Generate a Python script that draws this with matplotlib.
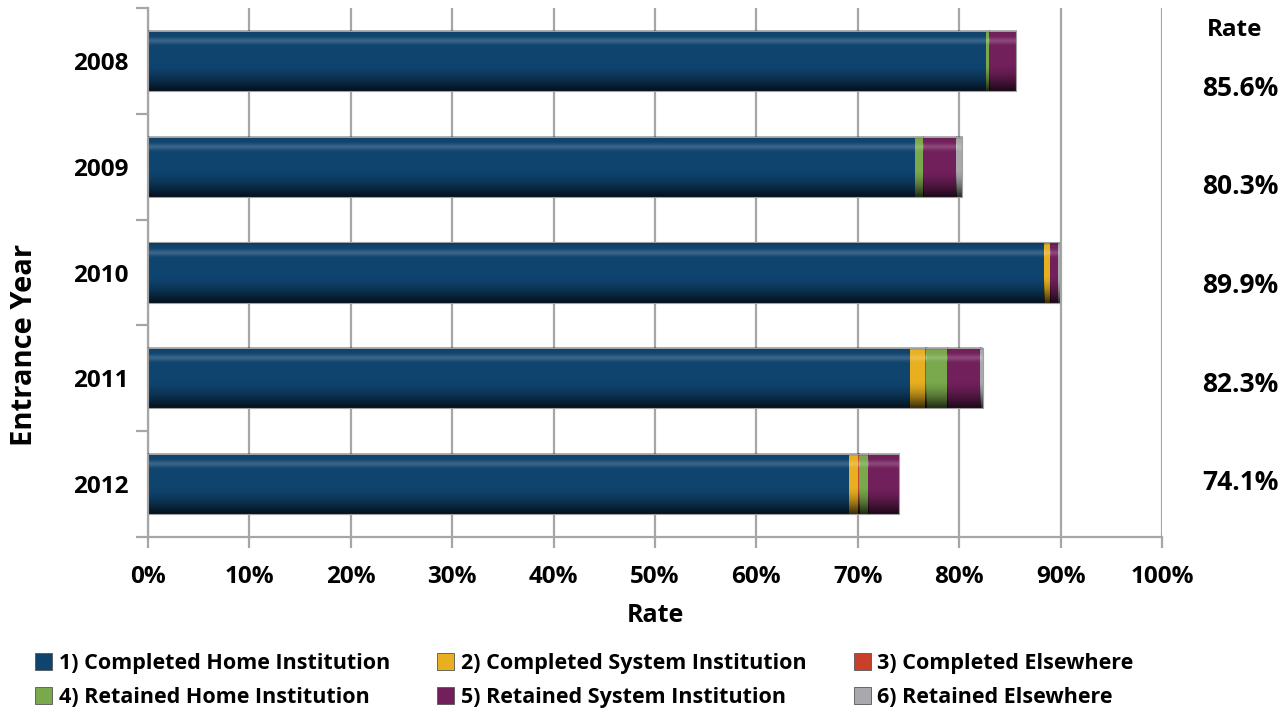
import numpy as np
import matplotlib
matplotlib.use("Agg")
from matplotlib import pyplot as plt
from matplotlib.patches import Patch

plt.rcParams['font.family'] = ['Open Sans', 'DejaVu Sans']
plt.rcParams['font.weight'] = 'bold'

years = ["2008", "2009", "2010", "2011", "2012"]
rates = [85.6, 80.3, 89.9, 82.3, 74.1]

series_names = ["1) Completed Home Institution", "2) Completed System Institution",
                "3) Completed Elsewhere", "4) Retained Home Institution",
                "5) Retained System Institution", "6) Retained Elsewhere"]
completed_home = [82.6, 75.6, 88.4, 75.1, 69.1]
completed_system = [0.0, 0.0, 0.6, 1.5, 0.9]
completed_else = [0.0, 0.0, 0.0, 0.1, 0.1]
retained_home = [0.3, 0.8, 0.0, 2.1, 0.9]
retained_system = [2.7, 3.3, 0.7, 3.3, 3.1]
retained_else = [0.0, 0.6, 0.2, 0.2, 0.0]
series = [completed_home, completed_system, completed_else,
          retained_home, retained_system, retained_else]
colors = ["#0f446f", "#e8b020", "#c8402a", "#7aa84c", "#72205c", "#a9a9ad"]

x_ticks = np.arange(0, 101, 10)


def shade_bar(ax, patch):
    # glossy look: light stripe near the top, dark towards the bottom
    x0, y0 = patch.get_x(), patch.get_y()
    w, h = patch.get_width(), patch.get_height()
    if w <= 0:
        return
    n = 60
    t = np.linspace(0, 1, n)
    img = np.zeros((n, 1, 4))
    light = np.exp(-((t - 0.17) / 0.05) ** 2) * 0.18
    dark = np.clip((t - 0.55) / 0.45, 0, 1) ** 1.6 * 0.75 + np.clip((0.05 - t) / 0.05, 0, 1) * 0.3
    img[:, 0, :3] = np.where(light[:, None] > dark[:, None], 1.0, 0.0)
    img[:, 0, 3] = np.maximum(light, dark)
    ax.imshow(img, extent=[x0, x0 + w, y0, y0 + h], origin='upper',
              aspect='auto', zorder=patch.get_zorder() + 0.1, interpolation='bilinear')


fig = plt.figure(figsize=(12.88, 7.13), dpi=100)
ax = fig.add_axes([148 / 1288, 1 - 537 / 713, 1014 / 1288, 529 / 713])

ypos = np.arange(len(years))[::-1]
left = np.zeros(len(years))
for vals, col in zip(series, colors):
    bars = ax.barh(ypos, vals, left=left, height=0.57, color=col, zorder=3,
                   edgecolor='none')
    for p in bars:
        shade_bar(ax, p)
    left += np.array(vals)

# thin grey outline round each whole bar
ax.barh(ypos, rates, height=0.57, facecolor='none', edgecolor='#a0a0a0',
        linewidth=0.8, zorder=4)

ax.set_xlim(0, 100)
ax.set_ylim(-0.5, len(years) - 0.5)

ax.set_xticks(x_ticks)
ax.set_xticklabels([f"{v}%" for v in x_ticks], fontsize=17.5, fontweight='bold')
ax.xaxis.grid(True, color='#a6a6a6', linewidth=1.6, zorder=0)
ax.set_axisbelow(True)

ax.set_yticks(np.arange(-0.5, len(years), 1.0))
ax.set_yticklabels([])
ax.set_yticks(ypos, minor=True)
ax.set_yticklabels(years, minor=True, fontsize=17.5, fontweight='bold')
ax.tick_params(axis='y', which='minor', length=0, pad=14)
ax.tick_params(axis='y', which='major', length=9, width=1.6, color='#a6a6a6')
ax.tick_params(axis='x', length=8, width=1.6, color='#a6a6a6', pad=12)

for side in ['top', 'right']:
    ax.spines[side].set_visible(False)
for side in ['left', 'bottom']:
    ax.spines[side].set_color('#a6a6a6')
    ax.spines[side].set_linewidth(1.6)

ax.set_xlabel("Rate", fontsize=18, fontweight='bold', labelpad=10)
ax.set_ylabel("Entrance Year", fontsize=21, fontweight='bold', va='center')
ax.yaxis.set_label_coords(-0.122, 0.363)

# rate column on the right, evenly spaced below its heading
ax.text(1.072, 1 - 22 / 529, "Rate", transform=ax.transAxes, ha='center',
        va='center', fontsize=17.5, fontweight='bold')
label_y = np.linspace(1 - 80 / 529, 1 - 475 / 529, len(rates))
for y, r in zip(label_y, rates):
    ax.text(1.077, y, f"{r}%", transform=ax.transAxes, ha='center', va='center',
            fontsize=19, fontweight='bold')

handles = [Patch(facecolor=c, edgecolor='#555555', linewidth=0.6) for c in colors]
order = [0, 3, 1, 4, 2, 5]
fig.legend([handles[i] for i in order], [series_names[i] for i in order],
           ncol=3, loc='lower left', bbox_to_anchor=(0.012, -0.02), frameon=False,
           handlelength=0.8, handleheight=0.8, handletextpad=0.3,
           columnspacing=2.2, labelspacing=0.6, prop={'weight': 'bold', 'size': 15.5})

fig.savefig("out.png", dpi=100)
